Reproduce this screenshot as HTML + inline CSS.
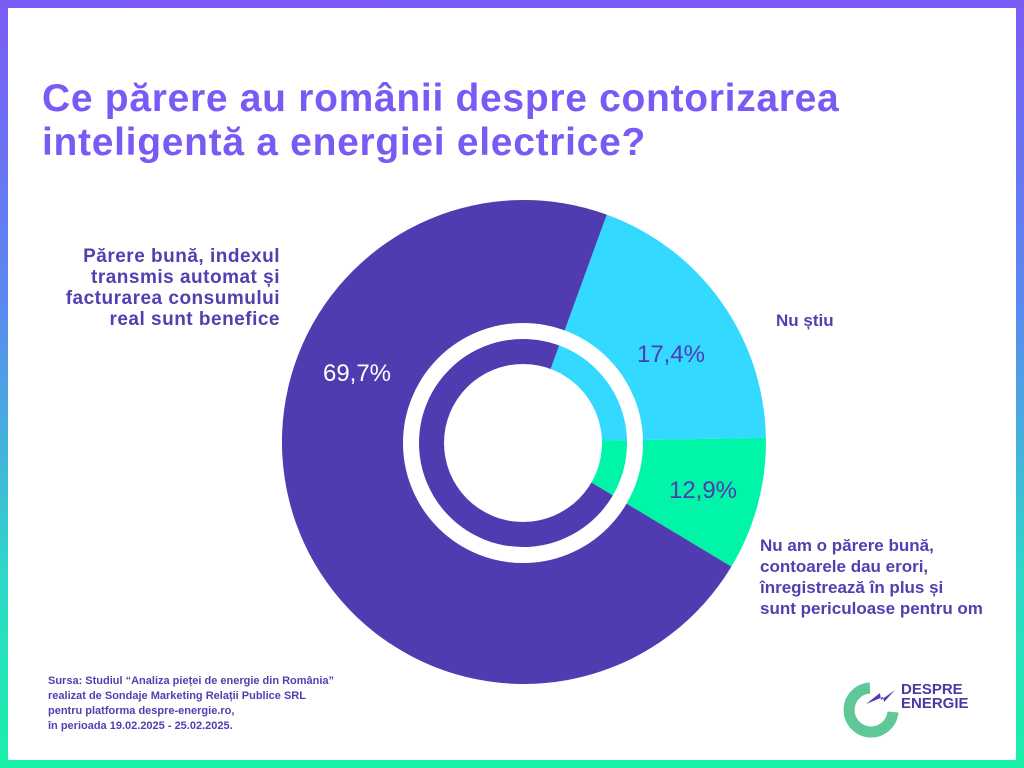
<!DOCTYPE html>
<html><head><meta charset="utf-8"><style>
html,body{margin:0;padding:0}
body{width:1024px;height:768px;position:relative;overflow:hidden;background:linear-gradient(#7b5cf6,#5a8af0 40%,#2fd8c8 75%,#19f0a8);font-family:"Liberation Sans",sans-serif}
.in{position:absolute;left:8px;top:8px;width:1008px;height:752px;background:#fff}
.t{position:absolute;left:42px;top:77px;color:#7a5af5;font-weight:bold;font-size:39px;line-height:44px;letter-spacing:0.7px}
.l{position:absolute;color:#5140b0;font-weight:bold;font-size:17px;line-height:21px}
.s{position:absolute;left:48px;top:674px;color:#5140b0;font-weight:bold;font-size:11px;line-height:15px}
</style></head><body>
<div class="in"></div>
<div class="t">Ce părere au românii despre contorizarea<br>inteligentă a energiei electrice?</div>
<svg style="position:absolute;left:0;top:0" width="1024" height="768">
<path d="M524 442 L606.8 214.6 A242 242 0 0 1 765.9 437.8 Z" fill="#33d9ff"/>
<path d="M524 442 L765.9 437.8 A242 242 0 0 1 731.4 566.6 Z" fill="#00f5a8"/>
<path d="M524 442 L731.4 566.6 A242 242 0 1 1 606.8 214.6 Z" fill="#503cb0"/>
<circle cx="523" cy="443" r="112" fill="none" stroke="#fff" stroke-width="16"/>
<circle cx="523" cy="443" r="79" fill="#fff"/>
<text x="357" y="381" fill="#fff" font-size="24" text-anchor="middle" font-family="Liberation Sans">69,7%</text>
<text x="671" y="362" fill="#503cb0" font-size="24" text-anchor="middle" font-family="Liberation Sans">17,4%</text>
<text x="703" y="498" fill="#503cb0" font-size="24" text-anchor="middle" font-family="Liberation Sans">12,9%</text>
<path d="M870 688 A22 22 0 1 0 893 712" fill="none" stroke="#5fc896" stroke-width="11"/>
<path d="M866 704 L880 693 L881 700 L895 690 L884 702 L883 697 Z" fill="#503cb0"/>
</svg>
<div class="l" style="right:744px;top:246px;text-align:right;font-size:19px;letter-spacing:0.5px">Părere bună, indexul<br>transmis automat și<br>facturarea consumului<br>real sunt benefice</div>
<div class="l" style="left:776px;top:310px">Nu știu</div>
<div class="l" style="left:760px;top:535px">Nu am o părere bună,<br>contoarele dau erori,<br>înregistrează în plus și<br>sunt periculoase pentru om</div>
<div class="s">Sursa: Studiul “Analiza pieței de energie din România”<br>realizat de Sondaje Marketing Relații Publice SRL<br>pentru platforma despre-energie.ro,<br>în perioada 19.02.2025 - 25.02.2025.</div>
<div class="l" style="left:901px;top:683px;font-size:15px;line-height:14px;color:#4a3aa0">DESPRE<br>ENERGIE</div>
</body></html>
